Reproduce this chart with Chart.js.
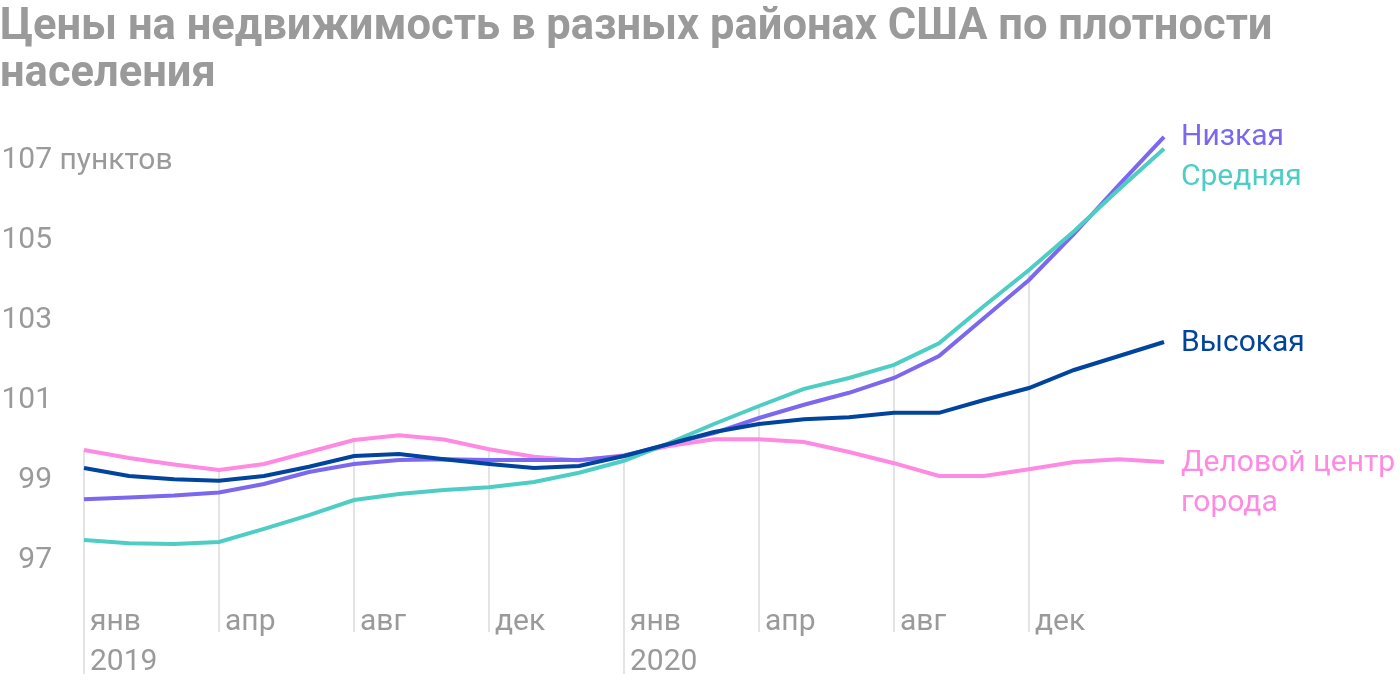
<!DOCTYPE html>
<html>
<head>
<meta charset="utf-8">
<script src="https://cdn.jsdelivr.net/npm/chart.js@4/dist/chart.umd.min.js"></script>
<style>
  body { margin: 0; background: #fff; }
</style>
</head>
<body>
<canvas id="myChart" width="1400" height="680"></canvas>
<script>
const title = ['Цены на недвижимость в разных районах США по плотности', 'населения'];
const unit = 'пунктов';

// one point per month, янв 2019 .. янв 2021
const months = ['янв','','','апр','','','авг','','','дек','','',
                'янв','','','апр','','','авг','','','дек','','',''];
const years  = ['2019','','','','','','','','','','','',
                '2020','','','','','','','','','','','',''];

const high   = [99.3, 99.1, 99.02, 98.98, 99.1, 99.33, 99.6, 99.65, 99.52, 99.4, 99.3, 99.35,
                 99.6, 99.9, 100.2, 100.4, 100.52, 100.57, 100.68, 100.68, 101.0, 101.3, 101.75, 102.1, 102.45];
const medium = [97.5, 97.42, 97.4, 97.45, 97.78, 98.12, 98.5, 98.65, 98.75, 98.82, 98.95, 99.18,
                 99.48, 99.92, 100.4, 100.85, 101.28, 101.55, 101.88, 102.42, 103.35, 104.25, 105.22, 106.27, 107.28];
const low    = [98.52, 98.56, 98.61, 98.69, 98.9, 99.2, 99.4, 99.5, 99.52, 99.5, 99.5, 99.5,
                 99.6, 99.9, 100.17, 100.55, 100.88, 101.18, 101.55, 102.1, 103.05, 104.0, 105.15, 106.38, 107.58];
const downtown = [99.75, 99.55, 99.39, 99.25, 99.4, 99.7, 100.0, 100.12, 100.01, 99.77, 99.58, 99.49,
                 99.62, 99.85, 100.02, 100.02, 99.95, 99.7, 99.42, 99.1, 99.1, 99.27, 99.45, 99.52, 99.45];

const seriesLabels = [['Высокая'], ['Средняя'], ['Низкая'], ['Деловой центр', 'города']];
const yTicks = [97, 99, 101, 103, 105, 107];

const grey = '#9a9a9a';
const font = 'Roboto';

// title drawn by hand so it is not squeezed into the chart width
const titlePlugin = {
    id: 'bigTitle',
    afterDraw(chart) {
        const {ctx} = chart;
        ctx.save();
        ctx.font = 'bold 43.5px ' + font;
        ctx.fillStyle = grey;
        ctx.textAlign = 'left';
        ctx.textBaseline = 'middle';
        title.forEach((t, i) => ctx.fillText(t, 0, 28 + i * 47));
        ctx.restore();
    }
};

// vertical lines only from bottom up to the top line
const partialGrid = {
    id: 'partialGrid',
    beforeDatasetsDraw(chart) {
        const {ctx, scales: {x, y}, chartArea} = chart;
        ctx.save();
        ctx.strokeStyle = '#e4e4e4';
        ctx.lineWidth = 2;
        months.forEach((m, i) => {
            if (!m) return;
            const px = Math.round(x.getPixelForValue(i));
            const top = Math.min(...chart.data.datasets.map(d => y.getPixelForValue(d.data[i])));
            const bottom = chartArea.bottom + (years[i] ? 94 : 52);
            ctx.beginPath();
            ctx.moveTo(px, top);
            ctx.lineTo(px, bottom);
            ctx.stroke();
        });
        ctx.restore();
    }
};

// series names at the line ends, plus unit after the top tick
const endLabels = {
    id: 'endLabels',
    afterDatasetsDraw(chart) {
        const {ctx, scales: {x, y}} = chart;
        ctx.save();
        ctx.font = '30px ' + font;
        ctx.textBaseline = 'middle';
        ctx.textAlign = 'left';

        const items = chart.data.datasets.map((d, i) => ({
            y: y.getPixelForValue(d.data[d.data.length - 1]),
            color: d.borderColor,
            lines: seriesLabels[i]
        })).sort((a, b) => a.y - b.y);
        let last = -Infinity;
        items.forEach(it => {
            let py = Math.max(it.y + 1, last + 40);
            ctx.fillStyle = it.color;
            it.lines.forEach((t, k) => ctx.fillText(t, x.right + 17, py + k * 40));
            last = py + (it.lines.length - 1) * 40;
        });

        ctx.fillStyle = grey;
        const top = yTicks[yTicks.length - 1];
        ctx.fillText(' ' + unit, y.right - 32, y.getPixelForValue(top) + 1);
        ctx.restore();
    }
};

const ctx = document.getElementById('myChart').getContext('2d');
const myChart = new Chart(ctx, {
    type: 'line',
    data: {
        labels: months.map((m, i) => years[i] ? [m, years[i]] : m),
        datasets: [
            { label: 'Высокая', data: high, borderColor: '#00449e' },
            { label: 'Средняя', data: medium, borderColor: '#4ecdc4' },
            { label: 'Низкая', data: low, borderColor: '#7b68ee' },
            { label: 'Деловой центр города', data: downtown, borderColor: '#ff8ae2' }
        ]
    },
    options: {
        responsive: false,
        animation: false,
        layout: { padding: { left: 0, right: 236, top: 120, bottom: 0 } },
        elements: {
            line: { borderWidth: 4, tension: 0, borderCapStyle: 'butt', borderJoinStyle: 'miter' },
            point: { radius: 0 }
        },
        plugins: {
            legend: { display: false },
            tooltip: { enabled: false },
            title: { display: false }
        },
        scales: {
            x: {
                type: 'category',
                offset: false,
                grid: { display: false },
                border: { display: false },
                afterFit(scale) { scale.height = 100; },
                ticks: {
                    autoSkip: false,
                    maxRotation: 0,
                    minRotation: 0,
                    align: 'start',
                    labelOffset: 6,
                    padding: 15,
                    color: grey,
                    font: { family: font, size: 30, lineHeight: 1.33 }
                }
            },
            y: {
                min: 96.5,
                max: 108,
                grid: { display: false, drawTicks: false },
                border: { display: false },
                afterFit(scale) { scale.width = 84; },
                afterBuildTicks(scale) { scale.ticks = yTicks.map(v => ({ value: v })); },
                ticks: {
                    padding: 32,
                    color: grey,
                    font: { family: font, size: 30 },
                    callback: v => String(v)
                }
            }
        }
    },
    plugins: [partialGrid, endLabels, titlePlugin]
});
</script>
</body>
</html>
